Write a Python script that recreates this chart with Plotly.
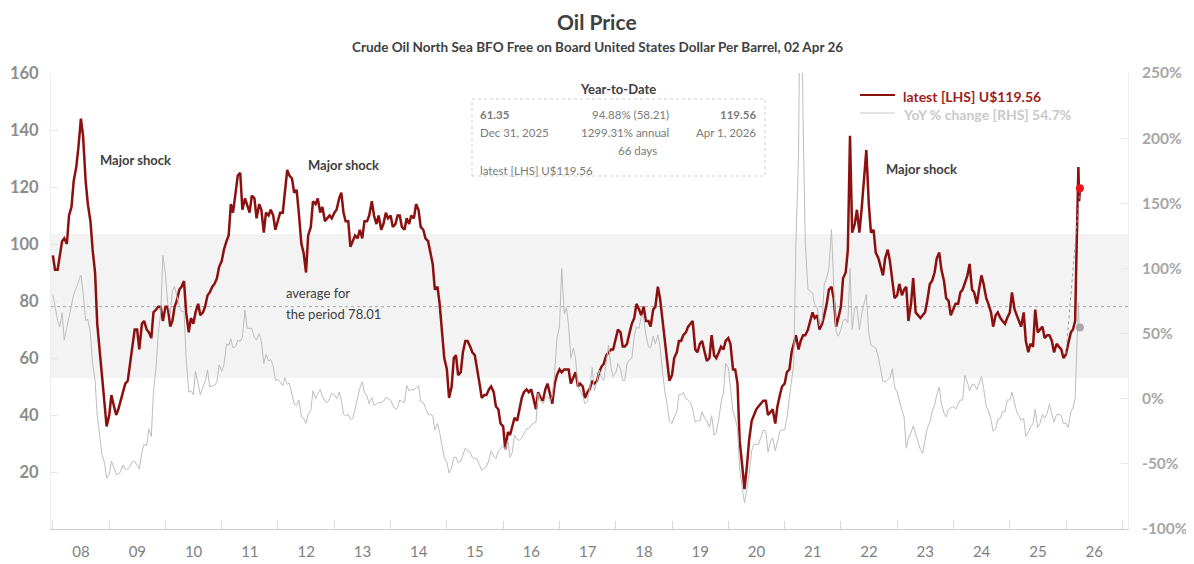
import pandas as pd
import plotly.graph_objects as go

# ---------------- data ----------------
# Dated Brent, US$/bbl, sampled on the 1st and 15th of each month, Jan 2008 .. Mar 2026
price = [
    96, 91, 91, 96, 101, 102, 100, 110, 113, 122, 127, 134, 144, 138, 122, 114, 108, 98, 90, 72, 62, 52, 45, 36,   # 2008
    40, 47, 43, 40, 42, 45, 49, 51, 52, 58, 66, 70, 70, 63, 72, 73, 70, 69, 67, 76, 77, 78, 78, 73,               # 2009
    78, 78, 71, 73, 78, 80, 84, 85, 87, 76, 69, 74, 72, 76, 79, 75, 76, 78, 82, 83, 85, 86, 88, 92,               # 2010
    94, 98, 101, 103, 114, 111, 118, 124, 125, 112, 116, 114, 111, 117, 116, 109, 114, 112, 104, 111, 110, 112, 110, 105,  # 2011
    108, 111, 111, 119, 126, 124, 123, 118, 119, 111, 100, 97, 90, 103, 106, 115, 114, 116, 111, 113, 108, 109, 110, 109,  # 2012
    111, 112, 116, 118, 111, 108, 108, 99, 101, 103, 102, 105, 102, 108, 108, 110, 115, 110, 107, 110, 105, 107, 111, 109,  # 2013
    110, 106, 107, 110, 110, 106, 105, 109, 107, 110, 109, 114, 112, 106, 105, 102, 101, 97, 93, 84, 85, 79, 70, 60,      # 2014
    56, 46, 50, 60, 61, 54, 55, 62, 66, 66, 64, 62, 61, 57, 51, 46, 47, 47, 49, 50, 48, 43, 42, 37,               # 2015
    36, 28, 34, 33, 36, 39, 38, 42, 46, 48, 49, 48, 49, 46, 42, 48, 46, 45, 49, 51, 47, 44, 51, 54,               # 2016
    56, 55, 56, 56, 56, 51, 53, 55, 50, 51, 50, 46, 48, 49, 52, 51, 52, 55, 57, 58, 61, 62, 63, 63,               # 2017
    67, 70, 69, 64, 64, 65, 69, 72, 74, 79, 77, 75, 78, 73, 73, 71, 77, 78, 85, 81, 73, 66, 60, 52,               # 2018
    54, 60, 62, 66, 66, 68, 69, 71, 72, 73, 63, 62, 65, 66, 62, 59, 60, 68, 61, 60, 62, 64, 63, 66,               # 2019
    67, 65, 56, 56, 51, 31, 22, 14, 22, 31, 38, 40, 42, 43, 44, 45, 45, 40, 41, 42, 37, 43, 47, 50,               # 2020
    51, 55, 56, 62, 65, 68, 63, 66, 68, 68, 70, 73, 76, 74, 75, 70, 72, 75, 79, 84, 85, 81, 71, 74,               # 2021
    78, 88, 90, 98, 138, 104, 107, 112, 104, 112, 122, 133, 114, 104, 105, 97, 95, 92, 89, 95, 98, 94, 87, 81,    # 2022
    82, 86, 82, 84, 85, 73, 79, 88, 76, 75, 74, 75, 76, 80, 86, 87, 90, 95, 97, 91, 87, 81, 80, 75,               # 2023
    77, 79, 79, 83, 84, 86, 89, 93, 84, 83, 79, 84, 89, 86, 81, 79, 76, 71, 75, 76, 74, 73, 72, 74,               # 2024
    76, 83, 77, 75, 73, 71, 76, 66, 62, 65, 64, 77, 69, 70, 71, 67, 68, 68, 66, 62, 65, 64, 63, 60,               # 2025
    61.35, 65, 69, 70, 73,                                                                                        # 2026
]
# Year-on-year % change on the same dates
yoy = [
    80, 72, 60, 55, 66, 45, 55, 64, 71, 80, 85, 90, 95, 82, 60, 61, 50, 27, 14, -13, -31, -43, -49, -61,          # 2008
    -58, -48, -53, -58, -58, -56, -51, -54, -54, -52, -48, -48, -51, -54, -41, -35, -36, -23, -29, 6, 24, 50, 66, 110,  # 2009
    95, 73, 65, 83, 86, 78, 71, 67, 67, 31, 5, 6, 3, 21, 10, 3, 9, 13, 22, 9, 10, 10, 13, 26,                    # 2010
    21, 26, 42, 41, 46, 39, 40, 45, 44, 47, 68, 54, 54, 54, 47, 45, 50, 44, 27, 34, 29, 30, 25, 14,               # 2011
    15, 13, 10, 16, 11, 12, 4, -4, -5, -1, -14, -15, -19, -12, -9, 6, 0, 4, 7, 2, -2, -3, 0, 4,                  # 2012
    3, 0, 5, -1, -12, -13, -12, -16, -15, -7, 2, 8, 13, 5, 2, -4, 1, -5, -4, -3, -3, -2, 1, 0,                    # 2013
    -1, -5, -8, -7, -1, -2, -3, 10, 6, 7, 7, 8, 10, -2, -3, -7, -12, -12, -13, -24, -19, -26, -37, -45,           # 2014
    -49, -57, -53, -45, -45, -49, -48, -43, -38, -40, -41, -45, -46, -46, -51, -55, -53, -52, -47, -40, -44, -46, -40, -38,  # 2015
    -36, -39, -32, -45, -41, -28, -31, -32, -30, -27, -23, -23, -20, -19, -18, 4, -2, -4, 0, 2, -2, 2, 21, 46,    # 2016
    56, 100, 65, 70, 56, 31, 39, 31, 9, 6, 2, -4, -2, 7, 24, 6, 13, 22, 16, 14, 30, 41, 24, 17,                  # 2017
    20, 27, 23, 14, 14, 27, 30, 31, 48, 55, 54, 63, 63, 49, 40, 39, 48, 42, 49, 40, 20, 6, -5, -17,              # 2018
    -19, -14, -10, 3, 3, 5, 0, -1, -3, -8, -18, -17, -17, -10, -15, -17, -22, -13, -28, -26, -15, -3, 5, 27,     # 2019
    24, 8, -10, -15, -23, -54, -68, -80, -69, -58, -40, -35, -35, -35, -29, -24, -25, -41, -33, -30, -40, -33, -25, -24,  # 2020
    -24, -15, 0, 11, 27, 119, 186, 371, 209, 119, 84, 83, 81, 72, 70, 56, 60, 88, 93, 100, 130, 88, 51, 48,      # 2021
    53, 60, 61, 58, 100, 53, 70, 70, 53, 65, 74, 80, 50, 41, 40, 39, 32, 23, 13, 13, 15, 16, 23, 9,              # 2022
    5, -2, -9, -14, -38, -30, -26, -21, -27, -33, -39, -42, -33, -23, -18, -10, -5, 3, 9, -4, -11, -14, -8, -7,  # 2023
    -6, -8, -4, -1, -1, 18, 13, 6, 11, 11, 7, 12, 17, 8, -6, -9, -16, -25, -23, -16, -15, -10, -10, -1,          # 2024
    -1, 5, -3, -10, -13, -17, -15, -29, -26, -22, -19, -8, -22, -19, -12, -15, -11, -4, -12, -18, -12, -12, -13, -19,  # 2025
    -19, -22, -10, -7, 0,                                                                                         # 2026
]
# March 2026 spike, sampled more finely
tail_dates = ["2026-03-08", "2026-03-15", "2026-03-22", "2026-03-27", "2026-04-01"]
tail_price = [92, 105, 127, 115, 119.56]
tail_yoy = [28, 48, 74, 55, 54.7]

ytd_start_date, ytd_start_value = "2025-12-31", 61.35
latest_date, latest_value, latest_yoy = "2026-04-01", 119.56, 54.7
period_avg = 78.01
band = [53.0, 103.5]

left_ticks = [20, 40, 60, 80, 100, 120, 140, 160]
right_ticks = [-100, -50, 0, 50, 100, 150, 200, 250]
right_ticktext = [f"{v}%" for v in right_ticks]

# ---------------- figure ----------------
W, H = 1194, 564
OFF = 8                      # page body margin of the html page
L, R, T, B = 51, 1128, 73, 529   # plot area in page pixels
def xp(px): return (px - L) / (R - L)
def yp(py): return (B - py) / (B - T)

dates = list(pd.date_range("2008-01-01", periods=len(price), freq="SMS").strftime("%Y-%m-%d")) + tail_dates
price_all = price + tail_price
yoy_all = yoy + tail_yoy

FONT = "Lato"
RED = "#8b1010"
GREY = "#bdbdbd"

fig = go.Figure()
fig.add_trace(go.Scatter(x=dates, y=price_all, mode="lines", line=dict(color=RED, width=2.5),
                         yaxis="y", hoverinfo="skip"))
fig.add_trace(go.Scatter(x=[ytd_start_date, latest_date], y=[ytd_start_value, latest_value], mode="lines",
                         line=dict(color="#9a9a9a", width=1, dash="dot"), yaxis="y", hoverinfo="skip"))
fig.add_trace(go.Scatter(x=[latest_date], y=[latest_value], mode="markers",
                         marker=dict(color="#e8151b", size=8), yaxis="y", hoverinfo="skip"))
fig.add_trace(go.Scatter(x=dates, y=yoy_all, mode="lines", line=dict(color=GREY, width=1),
                         yaxis="y2", hoverinfo="skip"))
fig.add_trace(go.Scatter(x=[latest_date], y=[latest_yoy], mode="markers",
                         marker=dict(color="#a8a8a8", size=8), yaxis="y2", hoverinfo="skip"))

shapes = [
    dict(type="rect", xref="paper", x0=0, x1=1, yref="y", y0=band[0], y1=band[1],
         fillcolor="#f3f3f3", line=dict(width=0), layer="below"),
    dict(type="line", xref="paper", x0=0, x1=1, yref="y", y0=period_avg, y1=period_avg,
         line=dict(color="#a6a6a6", width=1, dash="dot"), layer="below"),
    # YTD box
    dict(type="rect", xref="paper", yref="paper", x0=xp(472), x1=xp(765), y0=yp(176), y1=yp(99),
         line=dict(color="#cfcfcf", width=1, dash="dot"), fillcolor="rgba(0,0,0,0)"),
    # legend samples
    dict(type="line", xref="paper", yref="paper", x0=xp(860), x1=xp(895), y0=yp(95), y1=yp(95),
         line=dict(color=RED, width=2)),
    dict(type="line", xref="paper", yref="paper", x0=xp(860), x1=xp(895), y0=yp(113), y1=yp(113),
         line=dict(color="#c8c8c8", width=1)),
]

DARK = "#404040"
TXT = "#7a7a7a"
def ann(text, x, y, size=12, color=DARK, bold=False, xanchor="left"):
    return dict(text=f"<b>{text}</b>" if bold else text, xref="paper", yref="paper", x=xp(x), y=yp(y),
                xanchor=xanchor, yanchor="middle", showarrow=False,
                font=dict(family=FONT, size=size, color=color))

annotations = [
    ann("Oil Price", W / 2, 21, size=21, color=DARK, bold=True, xanchor="center"),
    ann("Crude Oil North Sea BFO Free on Board United States Dollar Per Barrel, 02 Apr 26", W / 2, 47,
        size=13.5, color=DARK, bold=True, xanchor="center"),
    ann("Major shock", 98, 160, size=13, bold=True),
    ann("Major shock", 306, 165, size=13, bold=True),
    ann("Major shock", 884, 169, size=13, bold=True),
    ann("average for", 284, 293, size=13),
    ann(f"the period {period_avg:.2f}", 284, 314, size=13),
    ann("Year-to-Date", 618, 89, size=13, bold=True, xanchor="center"),
    ann(f"{ytd_start_value:.2f}", 478, 114, size=11.5, color=TXT, bold=True),
    ann("Dec 31, 2025", 478, 132, size=11.5, color=TXT),
    ann("94.88% (58.21)", 671, 114, size=11.5, color=TXT, xanchor="right"),
    ann("1299.31% annual", 671, 132, size=11.5, color=TXT, xanchor="right"),
    ann("66 days", 637, 150, size=11.5, color=TXT, xanchor="center"),
    ann(f"{latest_value:.2f}", 758, 114, size=11.5, color=TXT, bold=True, xanchor="right"),
    ann("Apr 1, 2026", 758, 132, size=11.5, color=TXT, xanchor="right"),
    ann(f"latest [LHS] U${latest_value:.2f}", 478, 170, size=11.5, color=TXT),
    ann(f"latest [LHS] U${latest_value:.2f}", 901, 96, size=14, color="#a11d1d", bold=True),
    ann(f"YoY % change [RHS] {latest_yoy}%", 901, 114, size=14, color="#c9c9c9", bold=True),
]

fig.update_layout(
    width=W, height=H,
    margin=dict(l=L - OFF, r=W - (R - OFF), t=T - OFF, b=H - (B - OFF), autoexpand=False),
    paper_bgcolor="white", plot_bgcolor="white",
    showlegend=False,
    font=dict(family=FONT),
    shapes=shapes, annotations=annotations,
    xaxis=dict(type="date", range=["2007-12-20", "2027-02-07"], dtick="M12", tick0="2008-01-01",
               tickformat="%y", ticklabelmode="period", ticks="inside", ticklen=8, tickcolor="#d9d9d9",
               showline=True, linecolor="#d0d0d0", showgrid=False, zeroline=False,
               tickfont=dict(family=FONT, size=15, color="#7f7f7f"), ticklabelstandoff=9),
    yaxis=dict(range=[0, 160], tickvals=left_ticks, ticks="inside", ticklen=7, tickcolor="#e6e6e6",
               showline=True, linecolor="#eeeeee", showgrid=False, zeroline=False,
               tickfont=dict(family=FONT, size=16.5, color="#8c8c8c", weight="bold"), ticklabelstandoff=8),
    yaxis2=dict(range=[-100, 250], overlaying="y", side="right", tickvals=right_ticks, ticktext=right_ticktext,
                ticks="inside", ticklen=7, tickcolor="#e6e6e6",
                showline=True, linecolor="#eeeeee", showgrid=False, zeroline=False,
                tickfont=dict(family=FONT, size=15.5, color="#a6a6a6", weight="bold"), ticklabelstandoff=10),
)

fig.write_html("out.html")
